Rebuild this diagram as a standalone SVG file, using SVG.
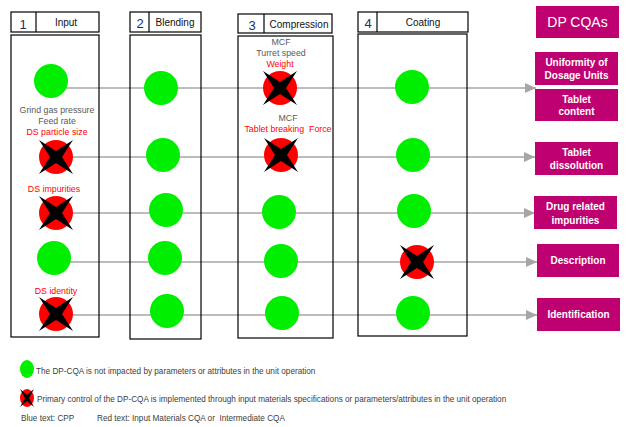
<svg xmlns="http://www.w3.org/2000/svg" width="641" height="427" viewBox="0 0 641 427">
<style>
.box{fill:#fff;stroke:#000;stroke-width:1.2}
.col{fill:none;stroke:#000;stroke-width:1.2}
.num{font-family:"Liberation Sans",Arial,sans-serif;font-size:13px;fill:#1f2d5c;text-anchor:middle}
.hdr{font-family:"Liberation Sans",Arial,sans-serif;font-size:10px;fill:#111;text-anchor:middle}
.cqa{fill:#bf0070}
.cqt{font-family:"Liberation Sans",Arial,sans-serif;font-size:10px;font-weight:bold;fill:#fff;text-anchor:middle}
.lbl{font-family:"Liberation Sans",Arial,sans-serif;font-size:8.8px;fill:#595959;text-anchor:middle;white-space:pre}
.red{fill:#ff0000}
.leg{font-family:"Liberation Sans",Arial,sans-serif;font-size:8.2px;fill:#404040;white-space:pre}
.conn{stroke:#a6a6a6;stroke-width:1.5;fill:none}
.g{fill:#00ee00}
</style>
<defs>
<marker id="arr" markerUnits="userSpaceOnUse" markerWidth="12" markerHeight="10" refX="11" refY="5" orient="auto">
<path d="M0,0 L11,5 L0,10 Z" fill="#a6a6a6"/>
</marker>
<g id="gc"><circle r="17" class="g"/></g>
<g id="rx"><circle r="17" fill="#ff0000"/><path d="M-17,-17 L-6,0 L-17,17 L0,6 L17,17 L6,0 L17,-17 L0,-6 Z" fill="#000"/></g>
</defs>

<g id="connectors">
<line class="conn" x1="51" y1="88" x2="536" y2="88" marker-end="url(#arr)"/>
<line class="conn" x1="56" y1="157" x2="535" y2="157" marker-end="url(#arr)"/>
<line class="conn" x1="56" y1="213" x2="535" y2="213" marker-end="url(#arr)"/>
<line class="conn" x1="54" y1="262" x2="537" y2="262" marker-end="url(#arr)"/>
<line class="conn" x1="56" y1="315" x2="537" y2="315" marker-end="url(#arr)"/>
</g>

<g id="col-input">
<rect class="box" x="11" y="12" width="88" height="20"/>
<line class="col" x1="36" y1="12" x2="36" y2="32"/>
<text class="num" x="23" y="29">1</text>
<text class="hdr" x="66" y="26">Input</text>
<rect class="col" x="11" y="35" width="88" height="302"/>
</g>
<g id="col-blending">
<rect class="box" x="130" y="12" width="71" height="20"/>
<line class="col" x1="149" y1="12" x2="149" y2="32"/>
<text class="num" x="140" y="28">2</text>
<text class="hdr" x="175" y="26">Blending</text>
<rect class="col" x="130" y="35" width="71" height="304"/>
</g>
<g id="col-compression">
<rect class="box" x="238" y="14" width="94" height="19"/>
<line class="col" x1="264" y1="14" x2="264" y2="33"/>
<text class="num" x="252" y="30">3</text>
<text class="hdr" x="299" y="28">Compression</text>
<rect class="col" x="238" y="36" width="95" height="302"/>
</g>
<g id="col-coating">
<rect class="box" x="358" y="12" width="110" height="20"/>
<line class="col" x1="377" y1="12" x2="377" y2="32"/>
<text class="num" x="368" y="28">4</text>
<text class="hdr" x="423" y="26">Coating</text>
<rect class="col" x="358" y="34" width="109" height="302"/>
</g>

<g id="labels">
<text class="lbl" x="57" y="113">Grind gas pressure</text>
<text class="lbl" x="57" y="124">Feed rate</text>
<text class="lbl red" x="57" y="135">DS particle size</text>
<text class="lbl red" x="54" y="192">DS impurities</text>
<text class="lbl red" x="56" y="294">DS identity</text>
<text class="lbl" x="281" y="45">MCF</text>
<text class="lbl" x="281" y="56">Turret speed</text>
<text class="lbl red" x="280" y="67">Weight</text>
<text class="lbl" x="288" y="121">MCF</text>
<text class="lbl red" x="288" y="132">Tablet breaking  Force</text>
</g>

<g id="r1c1"><use href="#gc" x="51" y="81"/></g>
<g id="r1c2"><use href="#gc" x="161" y="88"/></g>
<g id="r1c3"><use href="#rx" x="280" y="88"/></g>
<g id="r1c4"><use href="#gc" x="412" y="87"/></g>
<g id="r2c1"><use href="#rx" x="56" y="157"/></g>
<g id="r2c2"><use href="#gc" x="163" y="155"/></g>
<g id="r2c3"><use href="#rx" x="281" y="155"/></g>
<g id="r2c4"><use href="#gc" x="413" y="155"/></g>
<g id="r3c1"><use href="#rx" x="56" y="213"/></g>
<g id="r3c2"><use href="#gc" x="166" y="210"/></g>
<g id="r3c3"><use href="#gc" x="279" y="212"/></g>
<g id="r3c4"><use href="#gc" x="414" y="211"/></g>
<g id="r4c1"><use href="#gc" x="54" y="258"/></g>
<g id="r4c2"><use href="#gc" x="165" y="258"/></g>
<g id="r4c3"><use href="#gc" x="281" y="261"/></g>
<g id="r4c4"><use href="#rx" x="417" y="262"/></g>
<g id="r5c1"><use href="#rx" x="56" y="314"/></g>
<g id="r5c2"><use href="#gc" x="167" y="311"/></g>
<g id="r5c3"><use href="#gc" x="282" y="313"/></g>
<g id="r5c4"><use href="#gc" x="413" y="313"/></g>

<g id="cqa-title"><rect class="cqa" x="536" y="6" width="83" height="32"/><text class="cqt" x="577.5" y="27" style="font-size:14px;font-weight:normal">DP CQAs</text></g>
<g id="cqa-uniformity"><rect class="cqa" x="535" y="52" width="83" height="33"/><text class="cqt" x="576.5" y="66">Uniformity of</text><text class="cqt" x="576.5" y="79">Dosage Units</text></g>
<g id="cqa-content"><rect class="cqa" x="535" y="89" width="83" height="32"/><text class="cqt" x="576.5" y="103">Tablet</text><text class="cqt" x="576.5" y="115">content</text></g>
<g id="cqa-dissolution"><rect class="cqa" x="535" y="142" width="83" height="33"/><text class="cqt" x="576.5" y="156">Tablet</text><text class="cqt" x="576.5" y="169">dissolution</text></g>
<g id="cqa-impurities"><rect class="cqa" x="534" y="196" width="83" height="33"/><text class="cqt" x="575.5" y="210">Drug related</text><text class="cqt" x="575.5" y="224">impurities</text></g>
<g id="cqa-description"><rect class="cqa" x="537" y="244" width="82" height="33"/><text class="cqt" x="578" y="264">Description</text></g>
<g id="cqa-identification"><rect class="cqa" x="537" y="298" width="83" height="33"/><text class="cqt" x="578.5" y="318">Identification</text></g>

<g id="legend">
<ellipse cx="27" cy="369" rx="7" ry="9" class="g"/>
<text class="leg" x="36" y="374">The DP-CQA is not impacted by parameters or attributes in the unit operation</text>
<ellipse cx="27" cy="398" rx="7" ry="9" fill="#ff0000"/>
<path d="M20,389 L25,398 L20,407 L27,401 L34,407 L29,398 L34,389 L27,395 Z" fill="#000"/>
<text class="leg" x="37" y="402">Primary control of the DP-CQA is implemented through input materials specifications or parameters/attributes in the unit operation</text>
<text class="leg" x="21" y="421">Blue text: CPP</text>
<text class="leg red" x="97" y="421">Red text: Input Materials CQA or  Intermediate CQA</text>
</g>
</svg>
